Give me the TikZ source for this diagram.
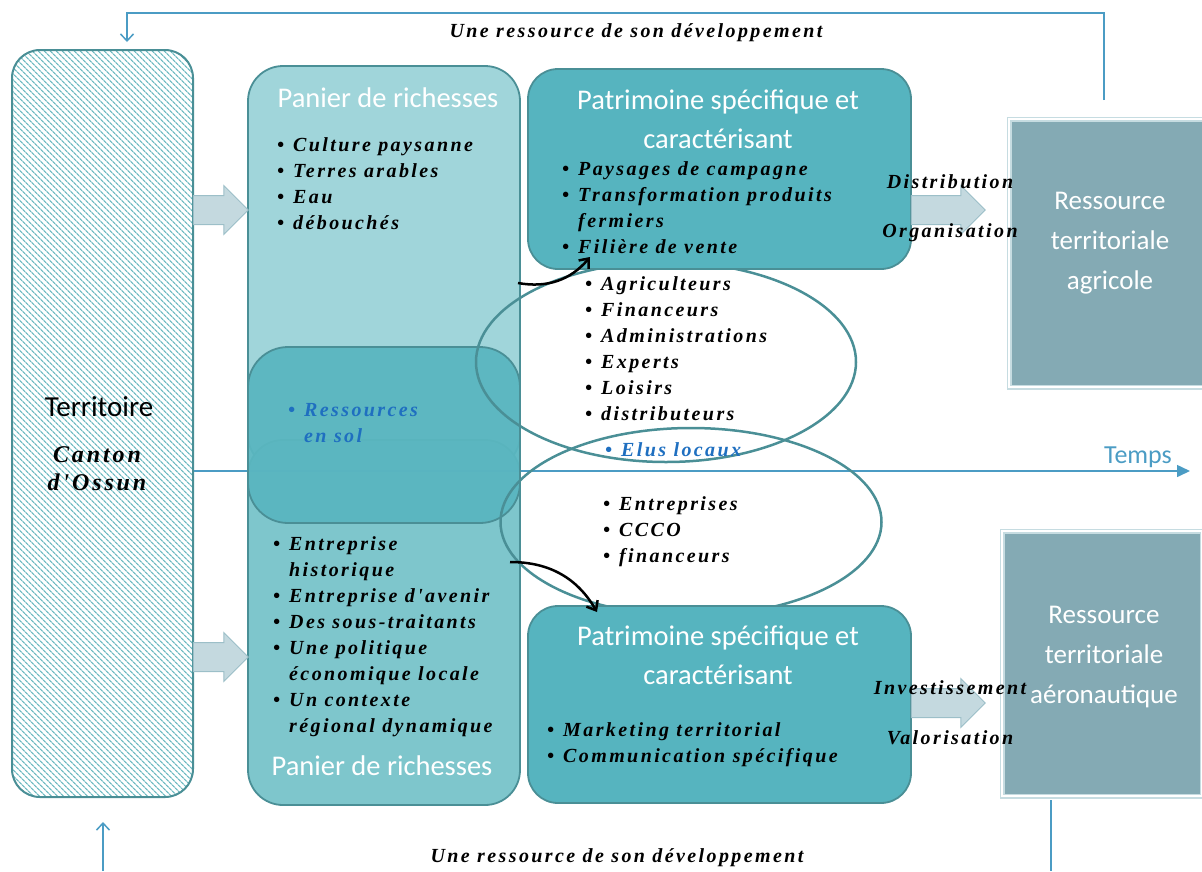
\documentclass[tikz,border=0pt]{standalone}
\usepackage{fontspec}
\setmainfont{Carlito}
\newfontfamily\brushfont[LetterSpace=12]{Liberation Serif}
\usetikzlibrary{shapes.geometric, shapes.arrows, arrows.meta, patterns.meta, positioning, calc}

\definecolor{tealline}{HTML}{4A8F96}
\definecolor{hatchc}{HTML}{6DBAC1}
\definecolor{panUc}{HTML}{A0D5DA}
\definecolor{panLc}{HTML}{7EC6CC}
\definecolor{midc}{HTML}{5AB6C0}
\definecolor{patc}{HTML}{56B4BF}
\definecolor{resc}{HTML}{84AAB4}
\definecolor{resbd}{HTML}{C6DCE1}
\definecolor{linkc}{HTML}{4B9CC4}
\definecolor{arrc}{HTML}{C4D9DF}
\definecolor{arrbd}{HTML}{9CBFC8}
\definecolor{solc}{HTML}{1F6FC0}

\newcommand{\brush}{\brushfont\bfseries\itshape\fontsize{20}{26}\selectfont}
\newcommand{\bul}{\makebox[16pt][l]{\textbullet}}
\newcommand{\ind}{\hspace*{16pt}}

\begin{document}
\begin{tikzpicture}[x=1pt, y=-1pt,
  hatchbox/.style={rectangle, rounded corners=28pt, draw=tealline, line width=2pt, inner sep=0pt,
    pattern={Lines[angle=-45, distance=4pt, line width=1.3pt]}, pattern color=hatchc},
  basket/.style={rectangle, rounded corners=35pt, draw=tealline, line width=1.8pt, inner sep=0pt,
    minimum width=272pt},
  heritage/.style={rectangle, rounded corners=30pt, draw=tealline, line width=1.8pt, inner sep=0pt,
    fill=patc, minimum width=383pt},
  resbox/.style={rectangle, draw=resbd, line width=1.5pt, double=white, double distance=2pt,
    fill=resc, inner sep=0pt, minimum width=200pt},
  actors/.style={ellipse, draw=tealline, line width=2.5pt, inner sep=0pt},
  blockarr/.style={single arrow, draw=arrbd, fill=arrc, line width=1pt, inner xsep=0pt, inner ysep=14pt,
    minimum height=55pt, single arrow head extend=10pt},
  title/.style={font=\fontsize{28.5}{39}\selectfont, text=white, align=center, inner sep=0pt},
  list/.style={font=\brush, align=left, anchor=west, inner sep=0pt},
  note/.style={font=\brush, inner sep=0pt},
  link/.style={draw=linkc, line width=1.5pt},
  hand/.style={-{Straight Barb[length=8pt, width=13pt]}, line width=2.5pt, black}
]
\useasboundingbox (0,0) rectangle (1202,871);

% Loop lines
\coordinate (loopR) at (1104,100);
\coordinate (loopL) at (127,42);
\draw[link, -{Straight Barb[length=7pt, width=13pt]}] (loopR) -- (1104,13) -| (loopL);
\coordinate (upS) at (103,871);
\coordinate (upE) at (103,822);
\draw[link, -{Straight Barb[length=7pt, width=13pt]}] (upS) -- (upE);
\coordinate (downS) at (1051,800);
\coordinate (downE) at (1051,871);
\draw[link] (downS) -- (downE);
\node[note] (devtop) at (636,33) {Une ressource de son développement};
\node[note] (devbot) at (617,858) {Une ressource de son développement};

% Territory
\node[hatchbox, minimum width=181pt, minimum height=747pt] (terr) at (102.5,423.5) {};
\node[font=\fontsize{29}{30}\selectfont, inner sep=0pt] (terrtxt) at (99,407) {Territoire};
\node[font=\brushfont\bfseries\itshape\fontsize{24}{28}\selectfont, align=center, inner sep=0pt]
  (canton) at (97,469) {Canton\\d'Ossun};

% Baskets of wealth
\node[basket, fill=panUc, minimum height=404pt] (panU) at (384,268) {};
\node[basket, fill=panLc, minimum height=365pt] (panL) at (384,622.5) {};

% Time axis
\node[text=linkc, font=\fontsize{26}{28}\selectfont, inner sep=0pt] (temps) at (1138,457) {Temps};
\coordinate (tempsE) at (1190,471);
\draw[link, -{Triangle[length=13pt, width=12pt]}] (terr.east |- tempsE) -- (tempsE);

\node[basket, rounded corners=40pt, fill=midc, fill opacity=0.95, minimum height=176pt] (mid) at (384,435) {};

% Actor groups
\node[actors, minimum width=380pt, minimum height=200pt] (grpA) at (666,362) {};
\node[actors, minimum width=381pt, minimum height=188pt] (grpB) at (691,522) {};

% Specific heritage
\node[heritage, minimum height=200pt] (patU) at (719.5,169) {};
\node[heritage, minimum height=197pt] (patL) at (719.5,704.5) {};

% Territorial resources
\node[resbox, minimum height=268pt] (resA) at (1109,253) {};
\node[resbox, minimum height=265pt] (resB) at (1102,663.5) {};
\node[title, font=\fontsize{27}{40}\selectfont] (resAtxt) at (1110,243) {Ressource\\territoriale\\agricole};
\node[title, font=\fontsize{27}{40}\selectfont] (resBtxt) at (1104,657) {Ressource\\territoriale\\aéronautique};

% Block arrows
\node[blockarr] (arrTL) at (213.5,210) {};
\node[blockarr] (arrBL) at (213.5,657) {};
\node[blockarr, minimum height=74pt] (arrTR) at (941,210) {};
\node[blockarr, minimum height=74pt] (arrBR) at (941,703) {};
\node[note] (distr) at (950,182) {Distribution};
\node[note] (orga) at (950,233) {Organisation};
\node[note] (invest) at (950,688) {Investissement};
\node[note] (valo) at (950,738) {Valorisation};

% Titles
\node[title] (panUtit) at (388,98) {Panier de richesses};
\node[title] (panLtit) at (382,766) {Panier de richesses};
\node[title] (patUtit) at (718,119) {Patrimoine spécifique et\\caractérisant};
\node[title] (patLtit) at (718,655) {Patrimoine spécifique et\\caractérisant};

% Lists
\node[list] (panUlist) at (277,183.5) {\bul Culture paysanne\\\bul Terres arables\\\bul Eau\\\bul débouchés};
\node[list, text=solc] (midlist) at (288,423.5) {\bul Ressources\\\ind en sol};
\node[list] (panLlist) at (273,636.5) {\bul Entreprise\\\ind historique\\\bul Entreprise d'avenir\\\bul Des sous-traitants\\\bul Une politique\\\ind économique locale\\\bul Un contexte\\\ind régional dynamique};
\node[list] (patUlist) at (562,208) {\bul Paysages de campagne\\\bul Transformation produits\\\ind fermiers\\\bul Filière de vente};
\node[list] (patLlist) at (547,744.5) {\bul Marketing territorial\\\bul Communication spécifique};
\node[list] (grpAlist) at (585,349) {\bul Agriculteurs\\\bul Financeurs\\\bul Administrations\\\bul Experts\\\bul Loisirs\\\bul distributeurs};
\node[list, text=solc] (elus) at (605,450) {\bul Elus locaux};
\node[list] (grpBlist) at (603,531.5) {\bul Entreprises\\\bul CCCO\\\bul financeurs};

% Hand-drawn arrows
\coordinate (handAS) at (518,283);
\coordinate (handAE) at (590,257);
\coordinate (handBS) at (510,562);
\coordinate (handBE) at (597,612);
\draw[hand] (handAS) to[bend right=30] (handAE);
\draw[hand] (handBS) to[bend left=30] (handBE);

\end{tikzpicture}
\end{document}
